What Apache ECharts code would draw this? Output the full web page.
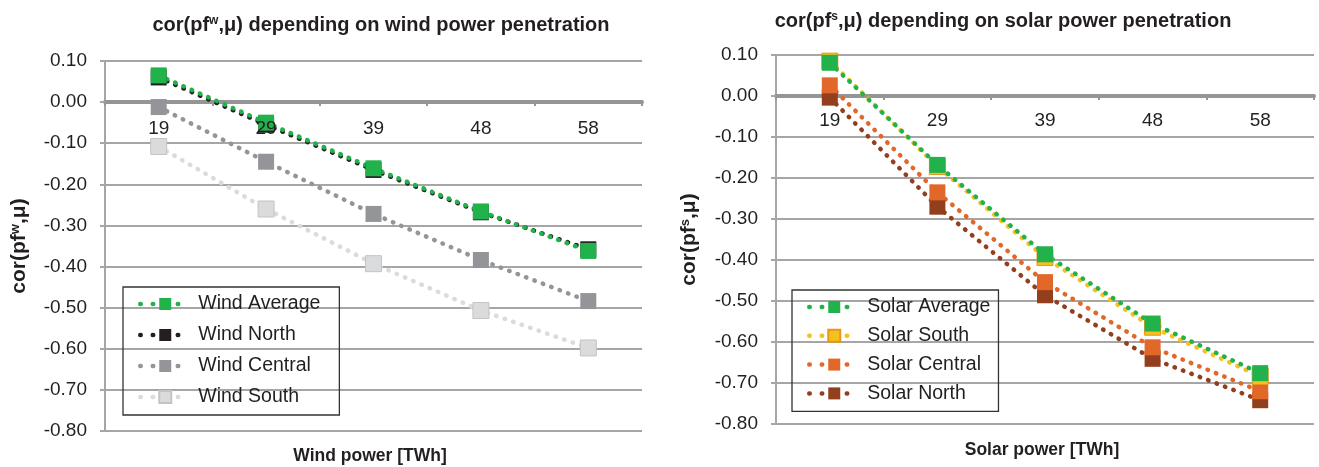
<!DOCTYPE html>
<html>
<head>
<meta charset="utf-8">
<script src="https://cdn.jsdelivr.net/npm/echarts@6/dist/echarts.min.js"></script>
<style>
  html, body { margin: 0; padding: 0; background: #fff; }
  #chart { width: 1319px; height: 467px; }
</style>
</head>
<body>
<div id="chart"></div>
<script>
// x categories (TWh) for both panels
const windCategories = ['19', '29', '39', '48', '58'];
const solarCategories = ['19', '29', '39', '48', '58'];

// wind panel
const windAverage = [0.065, -0.05, -0.161, -0.266, -0.362];
const windNorth = [0.06, -0.055, -0.165, -0.268, -0.358];
const windCentral = [-0.012, -0.145, -0.272, -0.384, -0.484];
const windSouth = [-0.108, -0.26, -0.393, -0.507, -0.598];

// solar panel
const solarAverage = [0.081, -0.168, -0.386, -0.555, -0.676];
const solarSouth = [0.085, -0.172, -0.394, -0.564, -0.684];
const solarCentral = [0.026, -0.235, -0.454, -0.613, -0.72];
const solarNorth = [-0.004, -0.27, -0.486, -0.641, -0.742];

const FONT = '"Liberation Sans", Arial, sans-serif';
const TXT = '#231f20';
const GRID_GRAY = '#a6a6a6';
const AXIS_GRAY = '#959595';

function dotted(color) {
  return { color: color, width: 4.5, type: [0.5, 8.5], cap: 'round' };
}

function makeSeries(name, data, color, idx, border) {
  return {
    name: name,
    type: 'line',
    xAxisIndex: idx * 2,
    yAxisIndex: idx,
    data: data,
    symbol: 'rect',
    symbolSize: 16,
    showSymbol: true,
    lineStyle: dotted(color),
    itemStyle: { color: color, borderColor: border || color, borderWidth: border ? 1 : 0 },
    emphasis: { disabled: true }
  };
}

// the zero line with its boundary ticks (markers drawn above it)
function xAxisFor(idx, cats) {
  return {
    type: 'category',
    gridIndex: idx,
    data: cats,
    boundaryGap: true,
    axisLine: { onZero: true, lineStyle: { color: AXIS_GRAY, width: 4 } },
    axisTick: { show: true, length: 4, lineStyle: { color: AXIS_GRAY, width: 2 } },
    axisLabel: { show: false },
    splitLine: { show: false }
  };
}

// category labels only, drawn over the markers just under the zero line
function xLabelAxisFor(idx, cats, labelMargin) {
  return {
    type: 'category',
    gridIndex: idx,
    position: 'top',
    data: cats,
    boundaryGap: true,
    z: 10,
    axisLine: { show: false, onZero: false },
    axisTick: { show: false },
    axisLabel: { color: TXT, fontFamily: FONT, fontSize: 19, margin: labelMargin },
    splitLine: { show: false }
  };
}

function yAxisFor(idx, name, gap) {
  return {
    type: 'value',
    gridIndex: idx,
    min: -0.8,
    max: 0.1,
    interval: 0.1,
    name: name,
    nameLocation: 'middle',
    nameRotate: 90,
    nameGap: gap,
    nameTextStyle: {
      color: TXT, fontFamily: FONT, fontSize: 21, fontWeight: 'bold',
      rich: { sup: { fontSize: 13, fontWeight: 'bold', verticalAlign: 'top', color: TXT, fontFamily: FONT } }
    },
    axisLine: { show: true, onZero: false, lineStyle: { color: GRID_GRAY, width: 2 } },
    axisTick: { show: true, length: 5, lineStyle: { color: GRID_GRAY, width: 2 } },
    axisLabel: {
      color: TXT, fontFamily: FONT, fontSize: 19, margin: 18,
      formatter: function (v) { return v.toFixed(2); }
    },
    splitLine: { show: true, lineStyle: { color: GRID_GRAY, width: 2 } }
  };
}

function legendFor(left, top, names, gap, padRight) {
  return {
    orient: 'vertical',
    left: left,
    top: top,
    data: names,
    itemWidth: 50,
    itemHeight: 15,
    itemGap: gap,
    padding: [7, padRight, 8, 15],
    borderColor: '#333',
    borderWidth: 1.3,
    lineStyle: { width: 4.5, type: [0.5, 12], cap: 'round' },
    textStyle: { color: TXT, fontFamily: FONT, fontSize: 19.5, padding: [0, 0, 0, 3] },
    selectedMode: false
  };
}

const titleStyle = {
  color: TXT, fontFamily: FONT, fontSize: 20, fontWeight: 'bold',
  rich: { sup: { fontSize: 12, fontWeight: 'bold', verticalAlign: 'top', color: TXT, fontFamily: FONT } }
};
const axisNameStyle = { color: TXT, fontFamily: FONT, fontSize: 17.5, fontWeight: 'bold' };

const chart = echarts.init(document.getElementById('chart'), null, { renderer: 'canvas' });

const option = {
  animation: false,
  backgroundColor: '#fff',
  title: [
    { text: 'cor(pf{sup|w},μ) depending on wind power penetration', left: 376, top: 10, textAlign: 'center', textStyle: titleStyle },
    { text: 'cor(pf{sup|s},μ) depending on solar power penetration', left: 998, top: 6, textAlign: 'center', textStyle: titleStyle },
    { text: 'Wind power [TWh]', left: 365, top: 442, textAlign: 'center', textStyle: axisNameStyle },
    { text: 'Solar power [TWh]', left: 1037, top: 436, textAlign: 'center', textStyle: axisNameStyle }
  ],
  legend: [
    legendFor(123, 287, ['Wind Average', 'Wind North', 'Wind Central', 'Wind South'], 11, 19),
    legendFor(792, 290, ['Solar Average', 'Solar South', 'Solar Central', 'Solar North'], 8.8, 8)
  ],
  grid: [
    { left: 105, right: 677, top: 61, bottom: 36 },
    { left: 776, right: 5, top: 55, bottom: 43 }
  ],
  xAxis: [
    xAxisFor(0, windCategories),
    xLabelAxisFor(0, windCategories, -77),
    xAxisFor(1, solarCategories),
    xLabelAxisFor(1, solarCategories, -75)
  ],
  yAxis: [
    yAxisFor(0, 'cor(pf{sup|w},μ)', 75),
    yAxisFor(1, 'cor(pf{sup|s},μ)', 76)
  ],
  series: [
    makeSeries('Wind South', windSouth, '#dadbdc', 0, '#c4c4c4'),
    makeSeries('Wind Central', windCentral, '#939598', 0),
    makeSeries('Wind North', windNorth, '#231f20', 0),
    makeSeries('Wind Average', windAverage, '#21b24b', 0),
    makeSeries('Solar North', solarNorth, '#933f1e', 1),
    makeSeries('Solar Central', solarCentral, '#e2682a', 1),
    makeSeries('Solar South', solarSouth, '#f6c11c', 1, '#e8961b'),
    makeSeries('Solar Average', solarAverage, '#21b24b', 1)
  ]
};

chart.setOption(option);
</script>
</body>
</html>
